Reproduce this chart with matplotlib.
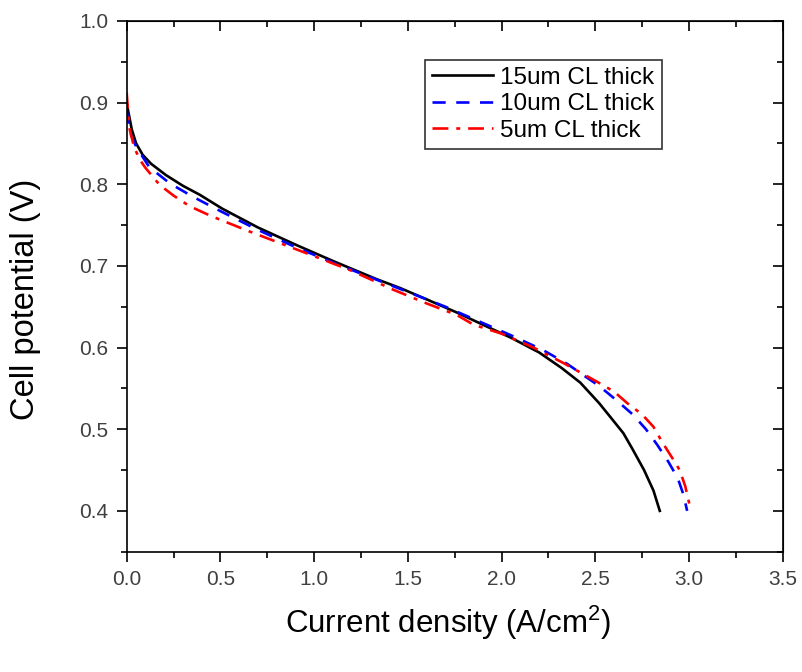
import numpy as np
import matplotlib
matplotlib.use("Agg")
import matplotlib.pyplot as plt
from matplotlib.ticker import MultipleLocator

# 15um CL thick
x15 = [0, 0.005, 0.027, 0.05, 0.085, 0.13, 0.21, 0.3, 0.39, 0.51, 0.7, 0.91, 1.1, 1.33,
       1.457, 1.6, 1.76, 1.937, 2.05, 2.2, 2.32, 2.42, 2.52, 2.58, 2.65, 2.70, 2.76, 2.81, 2.844]
y15 = [0.90, 0.893, 0.867, 0.85, 0.836, 0.825, 0.811, 0.798, 0.787, 0.770, 0.747, 0.725, 0.706, 0.684,
       0.673, 0.659, 0.643, 0.624, 0.612, 0.594, 0.575, 0.557, 0.532, 0.515, 0.495, 0.475, 0.45, 0.425, 0.40]

# 10um CL thick
x10 = [0, 0.005, 0.02, 0.05, 0.12, 0.23, 0.35, 0.5, 0.7, 0.9, 1.1, 1.3, 1.5, 1.7, 1.9, 2.05,
       2.22, 2.35, 2.45, 2.52, 2.61, 2.70, 2.77, 2.83, 2.89, 2.94, 2.97, 2.99]
y10 = [0.89, 0.882, 0.862, 0.846, 0.821, 0.801, 0.785, 0.767, 0.744, 0.723, 0.704, 0.686, 0.668, 0.65, 0.63, 0.615,
       0.597, 0.58, 0.564, 0.553, 0.536, 0.518, 0.50, 0.481, 0.46, 0.44, 0.42, 0.40]

# 5um CL thick
x5 = [0, 0.005, 0.016, 0.04, 0.07, 0.1, 0.176, 0.25, 0.336, 0.45, 0.656, 0.85, 1.01, 1.2, 1.42,
      1.6, 1.76, 1.85, 2.0, 2.17, 2.33, 2.51, 2.60, 2.67, 2.75, 2.81, 2.86, 2.91, 2.95, 2.98, 3.01]
y5 = [0.912, 0.895, 0.867, 0.845, 0.83, 0.82, 0.799, 0.786, 0.773, 0.761, 0.742, 0.725, 0.711, 0.694, 0.671,
      0.654, 0.640, 0.628, 0.617, 0.600, 0.581, 0.558, 0.546, 0.532, 0.518, 0.503, 0.483, 0.465, 0.45, 0.43, 0.40]

labels = ["15um CL thick", "10um CL thick", "5um CL thick"]
xticks = [0.0, 0.5, 1.0, 1.5, 2.0, 2.5, 3.0, 3.5]
yticks = [0.4, 0.5, 0.6, 0.7, 0.8, 0.9, 1.0]

plt.rcParams['font.family'] = ['Liberation Sans', 'DejaVu Sans']

fig = plt.figure(figsize=(8.02, 6.72), dpi=100)
ax = fig.add_axes([0.158, 0.179, 0.818, 0.79])

ax.plot(x15, y15, color='black', lw=1.9, ls='-', label=labels[0])
ax.plot(x10, y10, color='blue', lw=1.9, ls=(0, (5, 4)), label=labels[1])
ax.plot(x5, y5, color='red', lw=1.9, ls=(0, (6, 3, 1.5, 3)), label=labels[2])

ax.set_xlim(0, 3.5)
ax.set_ylim(0.35, 1.0)
ax.set_xticks(xticks)
ax.set_xticklabels(["%.1f" % v for v in xticks])
ax.set_yticks(yticks)
ax.set_yticklabels(["%.1f" % v for v in yticks])
ax.xaxis.set_minor_locator(MultipleLocator(0.25))
ax.yaxis.set_minor_locator(MultipleLocator(0.05))

for lab in ax.get_xticklabels() + ax.get_yticklabels():
    lab.set_fontsize(15)
    lab.set_color('#404040')

ax.tick_params(which='major', direction='out', length=7, width=1.2, pad=6)
ax.tick_params(which='minor', direction='out', length=4.5, width=1.2)
for s in ax.spines.values():
    s.set_linewidth(1.2)

# mirrored ticks on top and right, pointing inward
top = ax.secondary_xaxis('top')
top.set_xticks(xticks)
top.xaxis.set_minor_locator(MultipleLocator(0.25))
top.tick_params(which='major', direction='in', length=7, width=1.2, labeltop=False)
top.tick_params(which='minor', direction='in', length=4.5, width=1.2)
right = ax.secondary_yaxis('right')
right.set_yticks(yticks)
right.yaxis.set_minor_locator(MultipleLocator(0.05))
right.tick_params(which='major', direction='in', length=7, width=1.2, labelright=False)
right.tick_params(which='minor', direction='in', length=4.5, width=1.2)

ax.set_xlabel(r"Current density (A/cm$^{\mathregular{2}}$)", fontsize=22.5, va='center')
ax.set_ylabel("Cell potential (V)", fontsize=23.5, va='center')
ax.xaxis.set_label_coords(0.489, -0.134)
ax.yaxis.set_label_coords(-0.155, 0.476)

leg = ax.legend(loc='upper right', bbox_to_anchor=(0.816, 0.927), fontsize=17.5,
                handlelength=2.5, frameon=True, fancybox=False, edgecolor='black',
                borderpad=0.3, labelspacing=0.18, handletextpad=0.3, borderaxespad=0)
leg.get_frame().set_linewidth(1.2)

fig.savefig("out.png", dpi=100)
